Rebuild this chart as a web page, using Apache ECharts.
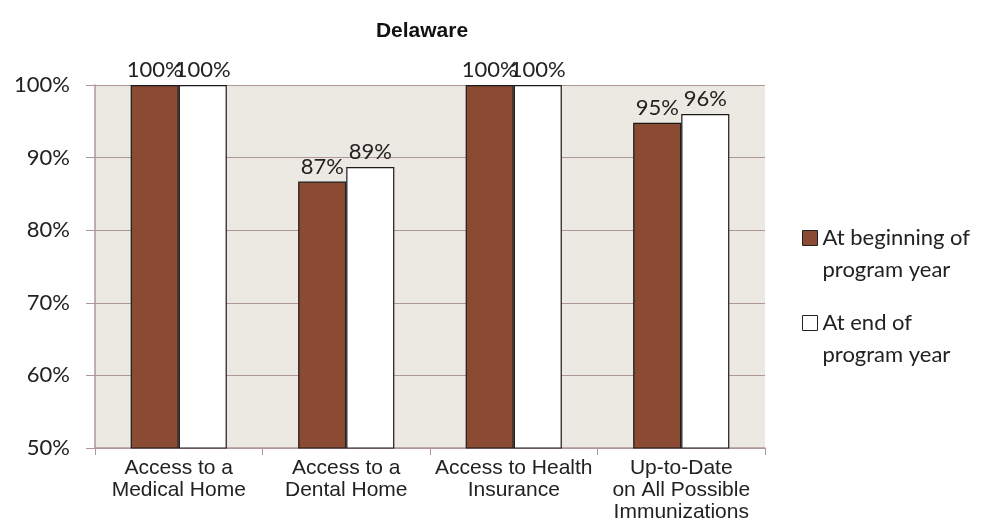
<!DOCTYPE html>
<html><head><meta charset="utf-8">
<script src="https://cdn.jsdelivr.net/npm/echarts@6/dist/echarts.min.js"></script>
<style>html,body{margin:0;padding:0;background:#fff}#c{width:992px;height:531px}</style>
</head><body><div id="c"></div>
<script>
const categories = ["Access to a\nMedical Home", "Access to a\nDental Home", "Access to Health\nInsurance", "Up-to-Date\non All Possible\nImmunizations"];
const beginning = [100, 86.7, 100, 94.8];
const endYear = [100, 88.7, 100, 96.0];
const seriesNames = ["At beginning of\nprogram year", "At end of\nprogram year"];
const yTicks = [50, 60, 70, 80, 90, 100];

const chart = echarts.init(document.getElementById('c'));
const FONT = 'Lato, "Open Sans", sans-serif';
const lbl = {show: true, position: 'top', distance: 4, color: '#222', fontSize: 22, fontFamily: FONT, formatter: p => Math.round(p.value) + '%'};
const legendText = {fontSize: 22, fontFamily: FONT, color: '#222', lineHeight: 32};
const legendFmt = name => ' \n' + name;
chart.setOption({
  animation: false,
  title: {text: 'Delaware', left: 417, top: 16, textAlign: 'center', textStyle: {fontFamily: '"Liberation Sans", Arial', fontWeight: 'bold', fontSize: 21, color: '#111'}},
  grid: {left: 95, right: 227, top: 85, bottom: 83, show: true, backgroundColor: '#ECE9E3', borderWidth: 0},
  legend: [
    {orient: 'vertical', left: 802, top: 190, padding: 0, itemWidth: 15, itemHeight: 15, itemGap: 0, textStyle: legendText, formatter: legendFmt,
     data: [{name: seriesNames[0], icon: 'rect', itemStyle: {color: '#8B4A32', borderColor: '#222', borderWidth: 1}}]},
    {orient: 'vertical', left: 802, top: 275, padding: 0, itemWidth: 15, itemHeight: 15, itemGap: 0, textStyle: legendText, formatter: legendFmt,
     data: [{name: seriesNames[1], icon: 'rect', itemStyle: {color: '#fff', borderColor: '#222', borderWidth: 1}}]}
  ],
  xAxis: {
    type: 'category', data: categories,
    axisLine: {lineStyle: {color: '#B09696', width: 1.5}},
    axisTick: {show: true, length: 7, lineStyle: {color: '#B09696'}},
    axisLabel: {color: '#222', fontSize: 21, fontFamily: '"Liberation Sans", Arial', lineHeight: 22, margin: 9, interval: 0}
  },
  yAxis: {
    type: 'value', min: yTicks[0], max: yTicks[yTicks.length-1], interval: 10,
    axisLine: {show: true, lineStyle: {color: '#B09696', width: 1.5}},
    axisTick: {show: true, length: 9, lineStyle: {color: '#B09696'}},
    splitLine: {show: true, lineStyle: {color: '#B09696', width: 1}},
    axisLabel: {color: '#222', fontSize: 22, fontFamily: FONT, margin: 25, formatter: v => v + '%'}
  },
  series: [
    {name: seriesNames[0], type: 'bar', data: beginning, barGap: '0%', barCategoryGap: '42.6%',
     itemStyle: {color: '#8B4A32', borderColor: '#1a1a1a', borderWidth: 1.2}, label: lbl},
    {name: seriesNames[1], type: 'bar', data: endYear,
     itemStyle: {color: '#fff', borderColor: '#1a1a1a', borderWidth: 1.2}, label: lbl}
  ]
});
</script></body></html>
